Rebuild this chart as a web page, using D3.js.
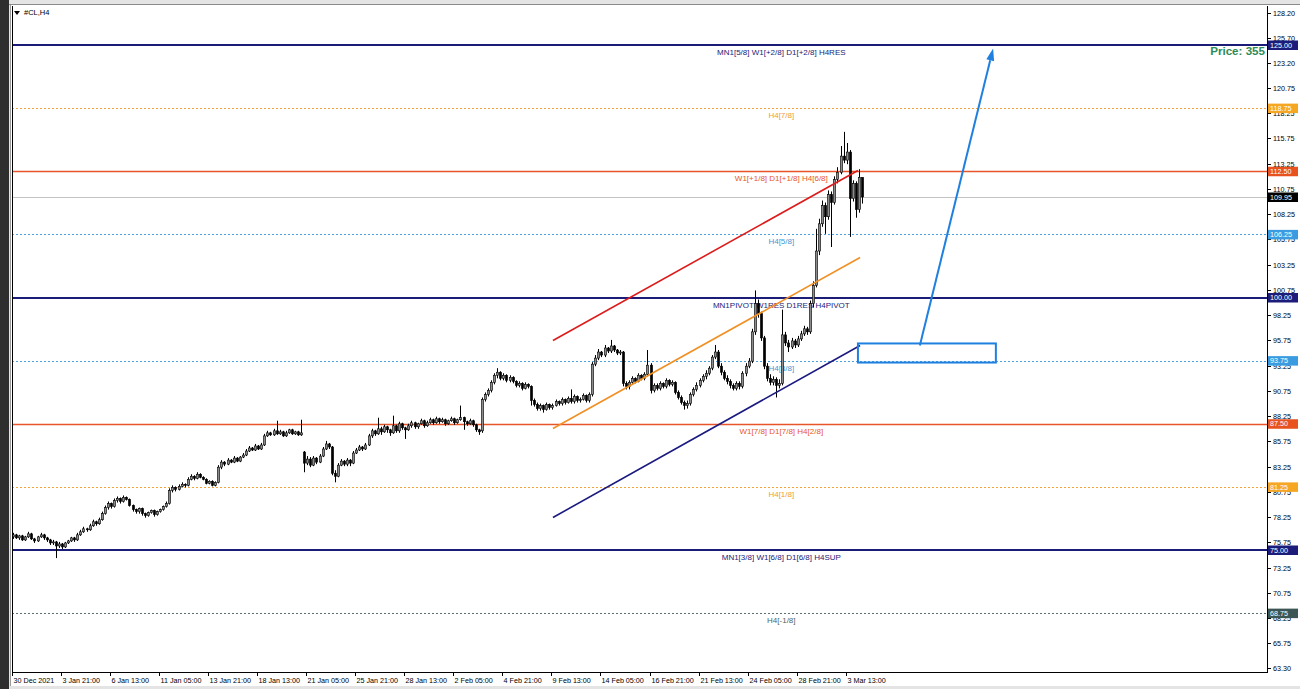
<!DOCTYPE html>
<html><head><meta charset="utf-8">
<script src="https://cdn.jsdelivr.net/npm/d3@7"></script>
<style>body{margin:0;background:#fff;}svg{display:block;}</style>
</head><body><svg id="c" width="1300" height="689"></svg>
<script>
// ---------------- DATA ----------------
const symbolTitle = "#CL,H4";
const opens = [
76.3,76.5,76.2,76.4,76.0,76.3,76.6,76.1,75.9,76.3,
76.5,76.2,76.0,75.7,75.8,75.4,75.6,75.3,75.7,75.9,
76.2,76.0,76.5,76.8,77.1,77.0,77.4,77.8,77.6,78.0,
78.6,79.2,79.6,79.3,79.9,80.1,79.8,80.2,80.0,79.4,
79.0,78.8,79.1,78.6,78.4,78.7,78.9,78.5,78.8,79.0,
79.3,79.6,80.9,81.2,81.0,81.3,81.5,81.4,82.0,82.3,
82.1,82.5,82.2,82.0,81.6,81.8,81.4,81.7,83.2,83.7,
83.5,83.9,83.7,84.1,83.8,84.2,84.4,84.8,85.1,84.9,
85.3,85.0,85.4,86.3,86.6,86.4,86.8,86.5,86.7,86.3,
86.6,86.9,86.5,86.7,86.4,84.7,83.6,84.0,83.4,84.1,
83.7,84.3,85.0,85.5,85.2,82.6,82.3,83.4,83.8,83.5,
83.9,83.6,84.6,84.9,85.2,85.0,85.4,86.3,86.8,86.5,
87.0,86.7,87.2,86.9,86.6,87.3,86.8,87.5,87.1,86.9,
87.3,87.6,87.2,87.5,87.8,87.3,87.6,87.9,87.6,88.0,
87.7,87.9,87.5,87.8,88.0,87.6,87.9,88.1,87.7,87.5,
87.8,87.4,86.9,86.8,89.9,90.4,90.8,91.6,92.3,92.6,
92.0,92.3,91.8,92.1,91.7,91.3,91.5,91.0,91.4,91.2,
89.8,89.4,89.0,89.3,88.9,89.4,89.1,89.3,89.7,89.5,
89.9,89.6,90.0,89.7,90.2,89.8,89.9,90.3,89.8,90.4,
93.4,94.0,94.6,94.3,95.0,94.7,95.2,94.8,94.5,94.6,
91.5,91.2,91.6,92.0,91.7,92.3,92.0,92.4,93.3,90.8,
91.3,91.0,91.5,91.2,91.8,91.4,91.6,90.6,90.1,89.6,
89.3,89.5,90.4,90.9,91.3,91.8,92.2,92.5,93.0,94.1,
94.6,93.2,92.6,92.0,91.7,91.3,91.0,91.5,91.2,92.5,
93.2,93.7,96.6,99.4,98.4,96.0,93.2,92.0,91.6,91.9,
91.3,91.5,96.3,95.5,95.1,95.7,95.3,95.9,96.4,96.9,
96.6,99.4,101.2,104.6,107.3,109.1,108.0,110.2,109.4,111.7,
112.4,114.0,113.6,114.4,109.8,111.3,108.7,111.9];
const highs = [
76.7,76.6,76.5,76.5,76.4,76.8,76.7,76.2,76.4,76.7,
76.6,76.3,76.1,76.0,75.9,75.8,75.7,75.8,76.0,76.3,
76.3,76.7,77.0,77.3,77.2,77.6,78.0,77.9,78.2,78.8,
79.4,79.8,79.7,80.1,80.3,80.2,80.4,80.3,80.1,79.5,
79.1,79.2,79.2,78.7,78.8,79.0,79.0,78.9,79.1,79.4,
79.8,81.1,81.4,81.3,81.5,81.7,81.6,82.2,82.5,82.4,
82.7,82.6,82.3,82.1,81.9,81.9,81.8,83.4,83.9,83.8,
84.1,84.0,84.3,84.2,84.3,84.6,85.0,85.3,85.2,85.5,
85.4,85.6,86.5,86.8,86.7,87.0,87.8,86.9,86.8,86.8,
87.0,87.0,86.8,86.8,87.9,84.8,84.3,84.2,84.3,84.2,
84.5,85.2,85.8,85.6,85.3,82.9,83.6,84.0,83.9,84.1,
84.0,84.8,85.1,85.4,85.3,85.6,86.5,87.0,86.9,88.1,
87.2,87.4,87.3,87.0,88.3,87.4,87.7,87.6,87.2,87.5,
87.8,87.7,87.6,88.0,87.9,87.8,88.1,88.0,88.2,88.1,
88.1,88.0,87.9,88.2,88.1,88.0,89.3,88.2,87.8,88.0,
87.9,87.5,87.0,90.1,90.6,91.0,91.8,92.5,93.0,92.7,
92.5,92.4,92.3,92.2,91.8,91.7,91.6,91.6,91.5,91.3,
90.0,89.6,89.5,89.4,89.6,89.5,89.5,89.9,89.8,90.1,
90.0,90.2,90.9,90.4,90.3,90.1,90.5,90.4,90.6,93.6,
94.3,94.9,94.7,95.3,95.1,95.8,95.3,94.9,94.8,94.7,
91.7,91.8,92.2,92.1,92.5,92.4,92.6,94.8,93.5,91.5,
91.5,91.7,91.6,92.0,91.9,91.8,91.7,90.8,90.3,89.8,
89.8,90.6,91.1,91.6,92.0,92.4,92.8,93.2,94.3,95.3,
94.8,93.5,92.8,92.3,91.9,91.5,91.7,91.7,92.7,93.5,
94.0,96.9,100.7,99.8,98.6,96.2,93.5,92.4,92.2,92.1,
91.9,98.8,96.6,95.8,96.0,95.9,96.2,96.7,97.2,97.1,
99.7,101.6,106.8,107.8,109.6,109.4,110.6,110.5,112.0,112.9,
115.0,116.4,115.3,114.6,111.6,111.5,112.7,110.6];
const lows = [
76.1,76.1,76.0,75.9,75.9,76.2,76.0,75.7,75.8,76.2,
76.0,75.8,75.5,75.5,74.2,75.2,75.1,75.2,75.6,75.8,
75.8,75.9,76.4,76.7,76.8,76.9,77.3,77.4,77.5,77.9,
78.5,79.0,79.1,79.2,79.7,79.6,79.7,79.9,79.3,78.8,
78.6,78.6,78.4,78.2,78.3,78.6,78.3,78.4,78.7,78.9,
79.2,79.5,80.7,80.8,80.9,81.2,81.2,81.3,81.9,81.9,
82.0,82.1,81.9,81.5,81.5,81.3,81.3,81.6,83.0,83.3,
83.4,83.6,83.6,83.7,83.7,84.1,84.3,84.7,84.8,84.8,
84.9,84.9,85.3,86.2,86.3,86.3,86.4,86.4,86.2,86.2,
86.5,86.4,86.4,86.3,86.3,82.7,83.4,83.2,83.3,83.5,
83.6,84.2,84.9,85.0,82.4,81.7,82.2,83.3,83.3,83.3,
83.3,83.5,84.5,84.8,84.8,84.9,85.3,86.1,86.3,86.4,
86.4,86.6,86.6,86.3,86.5,86.6,86.6,86.9,86.0,86.8,
87.1,87.0,87.0,87.4,87.1,87.2,87.5,87.4,87.5,87.5,
87.6,87.3,87.4,87.7,87.4,87.5,87.8,86.9,87.3,87.4,
87.2,86.7,86.4,86.6,89.7,90.2,90.6,91.4,92.0,91.8,
91.8,91.6,91.6,91.5,91.1,91.1,90.8,90.9,91.0,89.3,
89.2,88.8,88.8,88.6,88.8,88.9,88.9,89.2,89.3,89.3,
89.4,89.5,89.5,89.5,89.6,89.6,89.8,89.6,89.6,90.2,
93.2,93.8,94.1,94.1,94.5,94.5,94.6,94.3,94.3,91.2,
90.9,90.9,91.4,91.5,91.6,91.8,91.8,92.2,90.5,90.6,
90.8,90.8,91.0,91.0,91.2,91.2,90.4,89.9,89.4,88.9,
89.0,89.3,90.2,90.7,91.1,91.6,91.9,92.3,92.8,93.9,
93.0,92.3,91.8,91.4,91.0,90.8,90.8,90.9,91.0,92.2,
93.0,93.5,96.3,98.0,95.7,92.9,91.7,91.3,91.3,90.1,
91.0,91.3,95.2,94.6,94.9,95.0,95.1,95.7,96.2,96.3,
96.4,99.0,101.0,104.2,107.0,106.3,107.7,105.0,109.2,111.3,
112.2,113.3,113.2,106.0,109.5,107.9,108.4,109.3];
const closes = [
76.5,76.2,76.4,76.0,76.3,76.6,76.1,75.9,76.3,76.5,
76.2,76.0,75.7,75.8,75.4,75.6,75.3,75.7,75.9,76.2,
76.0,76.5,76.8,77.1,77.0,77.4,77.8,77.6,78.0,78.6,
79.2,79.6,79.3,79.9,80.1,79.8,80.2,80.0,79.4,79.0,
78.8,79.1,78.6,78.4,78.7,78.9,78.5,78.8,79.0,79.3,
79.6,80.9,81.2,81.0,81.3,81.5,81.4,82.0,82.3,82.1,
82.5,82.2,82.0,81.6,81.8,81.4,81.7,83.2,83.7,83.5,
83.9,83.7,84.1,83.8,84.2,84.4,84.8,85.1,84.9,85.3,
85.0,85.4,86.3,86.6,86.4,86.8,86.5,86.7,86.3,86.6,
86.9,86.5,86.7,86.4,86.6,83.6,84.0,83.4,84.1,83.7,
84.3,85.0,85.5,85.2,82.6,82.3,83.4,83.8,83.5,83.9,
83.6,84.6,84.9,85.2,85.0,85.4,86.3,86.8,86.5,87.0,
86.7,87.2,86.9,86.6,87.3,86.8,87.5,87.1,86.9,87.3,
87.6,87.2,87.5,87.8,87.3,87.6,87.9,87.6,88.0,87.7,
87.9,87.5,87.8,88.0,87.6,87.9,88.1,87.7,87.5,87.8,
87.4,86.9,86.7,89.9,90.4,90.8,91.6,92.3,92.6,92.0,
92.3,91.8,92.1,91.7,91.3,91.5,91.0,91.4,91.2,89.8,
89.4,89.0,89.3,88.9,89.4,89.1,89.3,89.7,89.5,89.9,
89.6,90.0,89.7,90.2,89.8,89.9,90.3,89.8,90.4,93.4,
94.0,94.6,94.3,95.0,94.7,95.2,94.8,94.5,94.6,91.5,
91.2,91.6,92.0,91.7,92.3,92.0,92.4,93.3,90.8,91.3,
91.0,91.5,91.2,91.8,91.4,91.6,90.6,90.1,89.6,89.3,
89.5,90.4,90.9,91.3,91.8,92.2,92.5,93.0,94.1,94.6,
93.2,92.6,92.0,91.7,91.3,91.0,91.5,91.2,92.5,93.2,
93.7,96.6,99.4,98.4,96.0,93.2,92.0,91.6,91.9,91.3,
91.5,96.3,95.5,95.1,95.7,95.3,95.9,96.4,96.9,96.6,
99.4,101.2,104.6,107.3,109.1,108.0,110.2,109.4,111.7,112.4,
114.0,113.6,114.4,109.8,111.3,108.7,111.9,109.95];

const timeLabels = ["30 Dec 2021","3 Jan 21:00","6 Jan 13:00","11 Jan 05:00","13 Jan 21:00","18 Jan 13:00",
 "21 Jan 05:00","25 Jan 21:00","28 Jan 13:00","2 Feb 05:00","4 Feb 21:00","9 Feb 13:00","14 Feb 05:00",
 "16 Feb 21:00","21 Feb 13:00","24 Feb 05:00","28 Feb 21:00","3 Mar 13:00"];
const timeLabelBars = [0,16,32,48,64,80,96,112,128,144,160,176,192,208,224,240,256,272];

const priceTicks = [128.20,125.70,123.20,120.75,118.25,115.75,113.25,110.75,108.25,105.75,103.25,100.75,
 98.25,95.75,93.25,90.75,88.25,85.75,83.25,80.75,78.25,75.75,73.25,70.75,68.25,65.75,63.30];

const levelPrices = [125.00,118.75,112.50,106.25,100.00,93.75,87.50,81.25,75.00,68.75];
const levelNames = ["MN1[5/8] W1[+2/8] D1[+2/8] H4RES","H4[7/8]","W1[+1/8] D1[+1/8] H4[6/8]","H4[5/8]",
 "MN1PIVOT W1RES D1RES H4PIVOT","H4[3/8]","W1[7/8] D1[7/8] H4[2/8]","H4[1/8]",
 "MN1[3/8] W1[6/8] D1[6/8] H4SUP","H4[-1/8]"];
const levelKinds = ["major","eighth","minor","quarter","major","quarter","minor","eighth","major","outer"];
const levelLabelBar = 251;

const currentPrice = 109.95;
const priceNote = "Price: 355";

// trend lines: [bar0, price0, bar1, price1]
const trendRed    = [176.5, 95.74, 276.0, 112.57];
const trendOrange = [176.5, 87.03, 276.7, 103.96];
const trendNavy   = [176.5, 78.22, 276.7, 95.25];
const zoneBox     = [276.0, 95.45, 321.0, 93.56];
const targetArrow = [296.2, 95.25, 320.1, 124.65];

// ---------------- STYLES ----------------
const kindStyle = {
  major:   {line:"#1b1b78", w:2,   dash:null,  text:"#1b1b78", tag:"#1c1c7a"},
  minor:   {line:"#e8552a", w:1.5, dash:null,  text:"#e8552a", tag:"#e8521f"},
  eighth:  {line:"#f2a43a", w:1,   dash:"2,2", text:"#f0a030", tag:"#f5a623"},
  quarter: {line:"#4aa3e0", w:1,   dash:"2,2", text:"#3f96d6", tag:"#3a9be0"},
  outer:   {line:"#5a7070", w:1,   dash:"2,2", text:"#4f6565", tag:"#3c5656"}
};
const FONT = "'Liberation Sans', Arial, sans-serif";

// ---------------- SCALES ----------------
const pLeft = 12, pRight = 1267, pTop = 6, pBottom = 672;
const x = d3.scaleLinear().domain([0, 410]).range([pLeft, pLeft + 410 * 3.065]);
const y = d3.scaleLinear().domain([75, 125]).range([550, 45]);

const svg = d3.select("#c");

// window chrome
svg.append("rect").attr("width",1300).attr("height",689).attr("fill","#e4e4e4");
svg.append("rect").attr("x",0).attr("y",0).attr("width",9).attr("height",689).attr("fill","#2e2e2e");
svg.append("rect").attr("x",10).attr("y",5).attr("width",1290).attr("height",681).attr("fill","#fff");
svg.append("line").attr("x1",9).attr("x2",1300).attr("y1",4.5).attr("y2",4.5).attr("stroke","#8a8a8a");
svg.append("line").attr("x1",10.5).attr("x2",10.5).attr("y1",5).attr("y2",686).attr("stroke","#9a9a9a");

// title
svg.append("path").attr("d","M14,11 L20,11 L17,15 Z").attr("fill","#000");
svg.append("text").attr("x",24).attr("y",15).attr("font-family",FONT).attr("font-size",7.5)
  .attr("fill","#000").text(symbolTitle);

// chart frame
svg.append("line").attr("x1",pLeft+0.5).attr("x2",pLeft+0.5).attr("y1",pTop).attr("y2",pBottom).attr("stroke","#000");
svg.append("line").attr("x1",pRight+0.5).attr("x2",pRight+0.5).attr("y1",pTop).attr("y2",pBottom).attr("stroke","#000");
svg.append("line").attr("x1",pLeft).attr("x2",pRight+1).attr("y1",pBottom+0.5).attr("y2",pBottom+0.5).attr("stroke","#000");

const plot = svg.append("g");
plot.append("clipPath").attr("id","clip").append("rect")
  .attr("x",pLeft+1).attr("y",pTop).attr("width",pRight-pLeft-1).attr("height",pBottom-pTop);
const g = plot.append("g").attr("clip-path","url(#clip)");

// current price line
g.append("line").attr("x1",pLeft).attr("x2",pRight).attr("y1",Math.round(y(currentPrice))+0.5)
  .attr("y2",Math.round(y(currentPrice))+0.5).attr("stroke","#c4c4c4").attr("stroke-width",1);

// level lines
levelPrices.forEach((p,i)=>{
  const s = kindStyle[levelKinds[i]];
  const yy = Math.round(y(p)) + (s.w===2?0:0.5);
  const ln = g.append("line").attr("x1",pLeft).attr("x2",pRight).attr("y1",yy).attr("y2",yy)
    .attr("stroke",s.line).attr("stroke-width",s.w);
  if (s.dash) ln.attr("stroke-dasharray",s.dash);
  g.append("text").attr("x",x(levelLabelBar)).attr("y",y(p)+10).attr("text-anchor","middle")
    .attr("font-family",FONT).attr("font-size",8).attr("fill",s.text).text(levelNames[i]);
});

// candles
const idx = d3.range(closes.length);
const cx = i => x(i) + 1;
g.append("g").selectAll("line").data(idx).join("line")
  .attr("x1",i=>Math.round(cx(i))+0.5).attr("x2",i=>Math.round(cx(i))+0.5)
  .attr("y1",i=>y(highs[i])).attr("y2",i=>y(lows[i]))
  .attr("stroke","#000").attr("stroke-width",1);
g.append("g").selectAll("rect").data(idx).join("rect")
  .attr("x",i=>Math.round(cx(i))-0.6).attr("width",2.2)
  .attr("y",i=>y(Math.max(opens[i],closes[i])))
  .attr("height",i=>Math.max(1, Math.abs(y(opens[i])-y(closes[i]))))
  .attr("fill",i=>closes[i]>=opens[i]?"#8c8c8c":"#000")
  .attr("stroke","#000").attr("stroke-width",0.6);

// trend lines
[[trendRed,"#dc1c1c"],[trendOrange,"#f09025"],[trendNavy,"#1a1a80"]].forEach(([t,c])=>{
  g.append("line").attr("x1",x(t[0])).attr("y1",y(t[1])).attr("x2",x(t[2])).attr("y2",y(t[3]))
    .attr("stroke",c).attr("stroke-width",1.6);
});

// zone rectangle
g.append("rect").attr("x",x(zoneBox[0])).attr("y",y(zoneBox[1]))
  .attr("width",x(zoneBox[2])-x(zoneBox[0])).attr("height",y(zoneBox[3])-y(zoneBox[1]))
  .attr("fill","none").attr("stroke","#1f80e0").attr("stroke-width",2);

// arrow
{
  const x1=x(targetArrow[0]), y1=y(targetArrow[1]), x2=x(targetArrow[2]), y2=y(targetArrow[3]);
  const ang = Math.atan2(y2-y1, x2-x1), L=12, W=4;
  const bx = x2 - L*Math.cos(ang), by = y2 - L*Math.sin(ang);
  g.append("line").attr("x1",x1).attr("y1",y1).attr("x2",bx).attr("y2",by)
    .attr("stroke","#1f80e0").attr("stroke-width",2);
  const px = -Math.sin(ang), py = Math.cos(ang);
  g.append("path").attr("d",`M${x2},${y2} L${bx+W*px},${by+W*py} L${bx-W*px},${by-W*py} Z`)
    .attr("fill","#1f80e0");
}

// price note
svg.append("text").attr("x",1265).attr("y",55).attr("text-anchor","end")
  .attr("font-family",FONT).attr("font-weight","bold").attr("font-size",11.6)
  .attr("fill","#2e8b57").text(priceNote);

// right price axis
const ax = svg.append("g");
priceTicks.forEach(p=>{
  const yy = Math.round(y(p))+0.5;
  ax.append("line").attr("x1",pRight).attr("x2",pRight+4).attr("y1",yy).attr("y2",yy).attr("stroke","#000");
  ax.append("text").attr("x",pRight+6).attr("y",yy+2.5).attr("font-family",FONT).attr("font-size",7.2)
    .attr("fill","#000").text(p.toFixed(2));
});

// tags
function tag(p, color){
  const yy = y(p);
  ax.append("rect").attr("x",pRight+1).attr("y",yy-4.5).attr("width",30).attr("height",9.5).attr("fill",color);
  ax.append("text").attr("x",pRight+3).attr("y",yy+2.7).attr("font-family",FONT).attr("font-size",7.2)
    .attr("fill","#fff").text(p.toFixed(2));
}
levelPrices.forEach((p,i)=>tag(p, kindStyle[levelKinds[i]].tag));
tag(currentPrice, "#000");

// time axis
const tx = svg.append("g");
timeLabelBars.forEach((b,i)=>{
  const xx = Math.round(x(b))+0.5;
  tx.append("line").attr("x1",xx).attr("x2",xx).attr("y1",pBottom).attr("y2",pBottom+4).attr("stroke","#000");
  tx.append("text").attr("x",xx+1).attr("y",pBottom+11).attr("font-family",FONT).attr("font-size",7.2)
    .attr("fill","#000").text(timeLabels[i]);
});
</script></body></html>
